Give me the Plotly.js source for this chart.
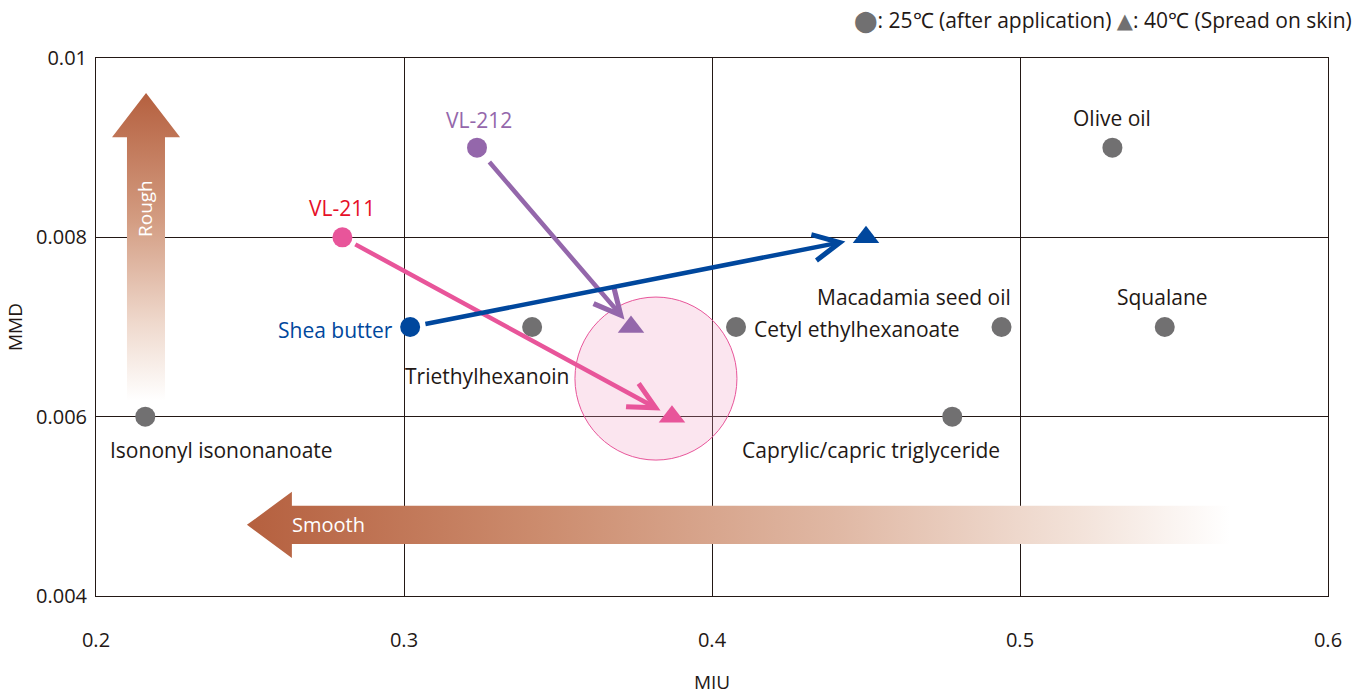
<!DOCTYPE html>
<html><head><meta charset="utf-8">
<script src="https://cdn.plot.ly/plotly-3.0.1.min.js"></script>
<style>body{margin:0;background:#fff}#chart{width:1367px;height:695px}</style>
</head><body><div id="chart"></div>
<script>
// ---- data ----
const oilNames = ["Isononyl isononanoate","Triethylhexanoin","Cetyl ethylhexanoate","Caprylic/capric triglyceride","Macadamia seed oil","Olive oil","Squalane"];
const oilMIU = [0.216, 0.3416, 0.4078, 0.478, 0.494, 0.530, 0.547];
const oilMMD = [0.006, 0.007, 0.007, 0.006, 0.007, 0.009, 0.007];

const sampleNames = ["VL-211","VL-212","Shea butter"];
const sampleMIU25 = [0.280, 0.3237, 0.302];
const sampleMMD25 = [0.008, 0.009, 0.007];
const sampleMIU40 = [0.387, 0.3737, 0.450];
const sampleMMD40 = [0.006, 0.007, 0.008];

const xTicks = [0.2, 0.3, 0.4, 0.5, 0.6];
const yTicks = [0.004, 0.006, 0.008, 0.01];

// ---- styles ----
const grey = "#717071";
const dark = "#231815";
const sampleColors = ["#e8559a", "#9467ab", "#00479d"];
const sampleLabelColors = ["#e60f28", "#9467ab", "#00479d"];
const FONT = "'Open Sans', Lato, sans-serif";
// label offsets (px) relative to the points
const oilLabelPos = [
  {xa:"left", dx:-37, dy:-33},
  {xa:"center", dx:-45, dy:-49},
  {xa:"left", dx:16, dy:-2},
  {xa:"center", dx:-81, dy:-33},
  {xa:"right", dx:11, dy:30},
  {xa:"center", dx:0, dy:30},
  {xa:"center", dx:-2, dy:30}
];
const sampleLabelPos = [
  {xa:"center", dx:0, dy:29},
  {xa:"center", dx:2, dy:28},
  {xa:"right", dx:-15, dy:-3}
];
const arrowStandoff = [13, 10, 21];
const arrowStart = [13, 17, 14];

const traces = [];

// decorative gradient arrows (Rough / Smooth)
const R = {tipY:0.00961, baseY:0.009117, bottomY:0.00618, hx0:0.2052, hx1:0.2273, sx0:0.21006, sx1:0.2224};
traces.push({
  x:[R.sx0, R.sx0, R.hx0, (R.hx0+R.hx1)/2, R.hx1, R.sx1, R.sx1, R.sx0],
  y:[R.bottomY, R.baseY, R.baseY, R.tipY, R.baseY, R.baseY, R.bottomY, R.bottomY],
  mode:"lines", line:{width:0, color:"rgba(0,0,0,0)"}, fill:"toself",
  fillgradient:{type:"vertical", start:R.bottomY, stop:R.tipY,
    colorscale:[[0,"rgba(255,255,255,1)"],[0.25,"#efd9cd"],[0.6,"#d29a7f"],[1,"#b5603f"]]},
  hoverinfo:"skip", showlegend:false
});
const S = {tipX:0.2490, baseX:0.2636, endX:0.5682, hy0:0.004425, hy1:0.005162, sy0:0.004581, sy1:0.005006};
traces.push({
  x:[S.endX, S.baseX, S.baseX, S.tipX, S.baseX, S.baseX, S.endX, S.endX],
  y:[S.sy1, S.sy1, S.hy1, (S.hy0+S.hy1)/2, S.hy0, S.sy0, S.sy0, S.sy1],
  mode:"lines", line:{width:0, color:"rgba(0,0,0,0)"}, fill:"toself",
  fillgradient:{type:"horizontal", start:S.tipX, stop:S.endX,
    colorscale:[[0,"#b5603f"],[0.3,"#cc8c6e"],[0.6,"#e0b8a4"],[0.85,"#f3e3da"],[1,"rgba(255,255,255,1)"]]},
  hoverinfo:"skip", showlegend:false
});

// reference oils
traces.push({x:oilMIU, y:oilMMD, mode:"markers", marker:{size:20, color:grey}, hoverinfo:"skip", showlegend:false});
// samples 25C and 40C
traces.push({x:sampleMIU25, y:sampleMMD25, mode:"markers", marker:{size:20, color:sampleColors}, hoverinfo:"skip", showlegend:false});
traces.push({x:sampleMIU40, y:sampleMMD40, mode:"markers", marker:{size:23, symbol:"triangle-up", color:sampleColors}, hoverinfo:"skip", showlegend:false});

const annotations = [];
oilNames.forEach((n,i)=>{
  const p = oilLabelPos[i];
  annotations.push({x:oilMIU[i], y:oilMMD[i], xref:"x", yref:"y", text:n, showarrow:false,
    xanchor:p.xa, yanchor:"middle", xshift:p.dx, yshift:p.dy, font:{family:FONT, size:21, color:dark}});
});
sampleNames.forEach((n,i)=>{
  const p = sampleLabelPos[i];
  annotations.push({x:sampleMIU25[i], y:sampleMMD25[i], xref:"x", yref:"y", text:n, showarrow:false,
    xanchor:p.xa, yanchor:"middle", xshift:p.dx, yshift:p.dy, font:{family:FONT, size:21, color:sampleLabelColors[i]}});
  annotations.push({x:sampleMIU40[i], y:sampleMMD40[i], xref:"x", yref:"y",
    ax:sampleMIU25[i], ay:sampleMMD25[i], axref:"x", ayref:"y", text:"", showarrow:true,
    arrowhead:5, arrowsize:1.15, arrowwidth:4.5, arrowcolor:sampleColors[i],
    standoff:arrowStandoff[i], startstandoff:arrowStart[i]});
});
annotations.push({x:0.2, y:0.007, xref:"x", yref:"y", text:"Rough", showarrow:false, textangle:-90,
  xshift:49, yshift:118, font:{family:FONT, size:19, color:"#ffffff"}});
annotations.push({x:S.tipX, y:(S.hy0+S.hy1)/2, xref:"x", yref:"y", text:"Smooth", showarrow:false,
  xanchor:"left", xshift:43, yshift:0, font:{family:FONT, size:20, color:"#ffffff"}});
annotations.push({x:1, y:1, xref:"paper", yref:"paper", xanchor:"right", yanchor:"middle", xshift:26, yshift:38,
  showarrow:false, text:'<span style="color:#717071;font-family:\'DejaVu Sans\'">⬤</span>: 25℃ (after application) <span style="color:#717071;font-family:\'DejaVu Sans\'">▲</span>: 40℃ (Spread on skin)',
  font:{family:FONT, size:21, color:dark}});

const layout = {
  width:1367, height:695,
  margin:{l:96, r:39, t:58, b:99},
  paper_bgcolor:"#fff", plot_bgcolor:"#fff",
  showlegend:false,
  xaxis:{range:[0.2,0.6], tickvals:xTicks, ticktext:xTicks.map(String), showgrid:true, gridcolor:dark, gridwidth:1,
    showline:true, mirror:true, linecolor:dark, linewidth:1, zeroline:false, ticks:"",
    ticklabelstandoff:26, tickfont:{family:FONT, size:20, color:dark},
    title:{text:"MIU", standoff:24, font:{family:FONT, size:19, color:dark}}},
  yaxis:{range:[0.004,0.01], tickvals:yTicks, ticktext:yTicks.map(String), showgrid:true, gridcolor:dark, gridwidth:1,
    showline:true, mirror:true, linecolor:dark, linewidth:1, zeroline:false, ticks:"",
    ticklabelstandoff:4, tickfont:{family:FONT, size:20, color:dark},
    title:{text:"MMD", standoff:8, font:{family:FONT, size:19, color:dark}}},
  shapes:[{type:"circle", xref:"x", yref:"y", layer:"between",
    x0:0.3555, x1:0.4081, y0:0.005516, y1:0.007334,
    fillcolor:"rgba(240,150,190,0.25)", line:{color:"#e8559a", width:1}}],
  annotations:annotations
};
Plotly.newPlot("chart", traces, layout, {displayModeBar:false, staticPlot:true});
</script></body></html>
